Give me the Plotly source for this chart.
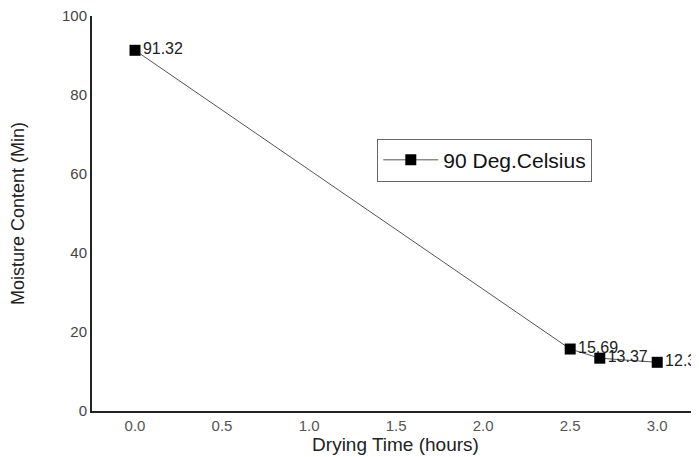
import plotly.graph_objects as go

drying_time = [0.0, 2.5, 2.67, 3.0]
moisture = [91.32, 15.69, 13.37, 12.33]
point_labels = ["91.32", "15.69", "13.37", "12.33"]
series_name = "90 Deg.Celsius"
x_ticks = [0.0, 0.5, 1.0, 1.5, 2.0, 2.5, 3.0]
x_tick_text = ["0.0", "0.5", "1.0", "1.5", "2.0", "2.5", "3.0"]
y_ticks = [0, 20, 40, 60, 80, 100]

FONT = "Liberation Sans, Arial"

fig = go.Figure()
fig.add_trace(go.Scatter(
    x=drying_time, y=moisture, mode="lines+markers+text",
    name=series_name,
    text=point_labels, textposition="middle right",
    textfont=dict(family=FONT, size=16, color="#222"),
    line=dict(color="#555", width=1),
    marker=dict(symbol="square", size=11, color="black"),
    cliponaxis=False,
))

fig.update_layout(
    width=691, height=449,
    margin=dict(l=84, r=0, t=8, b=46),
    paper_bgcolor="white", plot_bgcolor="white",
    font=dict(family=FONT, color="#222"),
    showlegend=True,
    legend=dict(x=0.47, y=0.635, xanchor="left", yanchor="middle",
                bordercolor="#666", borderwidth=1, bgcolor="white",
                font=dict(size=21, color="#111"), itemwidth=55,
                tracegroupgap=0),
    xaxis=dict(range=[-0.247, 3.24], tickvals=x_ticks, ticktext=x_tick_text,
               showgrid=False, zeroline=False, showline=True,
               linecolor="#222", linewidth=2, ticks="", ticklen=0,
               ticklabeloverflow="allow",
               tickfont=dict(size=15, color="#555"),
               title=dict(text="Drying Time (hours)", font=dict(size=19, color="#222"), standoff=0)),
    yaxis=dict(range=[0, 100], tickvals=y_ticks,
               showgrid=False, zeroline=False, showline=True,
               linecolor="#222", linewidth=2, ticks="", ticklen=0,
               ticklabeloverflow="allow",
               tickfont=dict(size=15, color="#444"),
               title=dict(text="Moisture Content (Min)", font=dict(size=18, color="#222"), standoff=34)),
)

fig.write_html("out.html")
